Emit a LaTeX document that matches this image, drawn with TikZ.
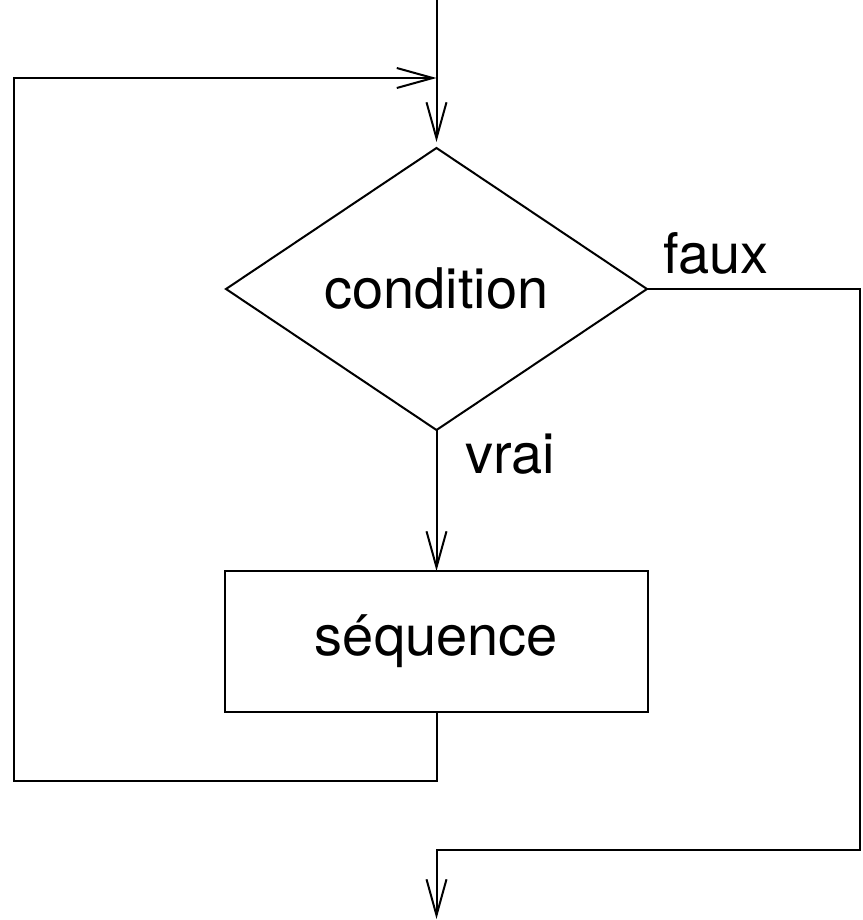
\documentclass[tikz,border=0pt]{standalone}
\usepackage{fontspec}
\setmainfont{TeX Gyre Heros}
\usetikzlibrary{shapes.geometric,arrows.meta}

\tikzset{
  flow/.style={line width=1pt, line join=miter},
  arr/.style={flow, -{Straight Barb[length=18pt,width=10pt,line width=1pt]}},
  label text/.style={font=\fontsize{28}{34}\selectfont, inner sep=0pt},
  test/.style={flow, draw, diamond, aspect=1.49, minimum width=210.5pt,
    minimum height=141pt, inner sep=0pt, outer sep=0pt,
    font=\fontsize{28}{34}\selectfont},
  action/.style={flow, draw, rectangle, minimum width=211.5pt,
    minimum height=70.5pt, inner sep=0pt, outer sep=0pt,
    font=\fontsize{28}{34}\selectfont}
}

\begin{document}
\begin{tikzpicture}[x=0.5pt, y=-0.5pt]
  \useasboundingbox (0,0) rectangle (862,920);

  % decision and body of the loop
  \node[test] (cond) at (436.5,289) {condition};
  \node[action] (seq) at (436.5,641.5) {séquence};

  % entry, merge point and exit
  \coordinate (entry) at (436.5,0);
  \coordinate (merge) at (436.5,78);
  \coordinate (exit) at (436.5,919);

  % branch labels
  \node[label text, anchor=base west] (faux) at (663,273) {faux};
  \node[label text, anchor=base west] (vrai) at (465,473) {vrai};

  % connectors
  \draw[arr, shorten >=3pt] (entry) -- (cond.north);
  \draw[arr] (cond.south) -- (seq.north);
  \draw[arr] (seq.south) -- (436.5,781) -- (14,781) -- (14,78) -- (merge);
  \draw[arr] (cond.east) -- (860,289) -- (860,850) -- (436.5,850) -- (exit);
\end{tikzpicture}
\end{document}
